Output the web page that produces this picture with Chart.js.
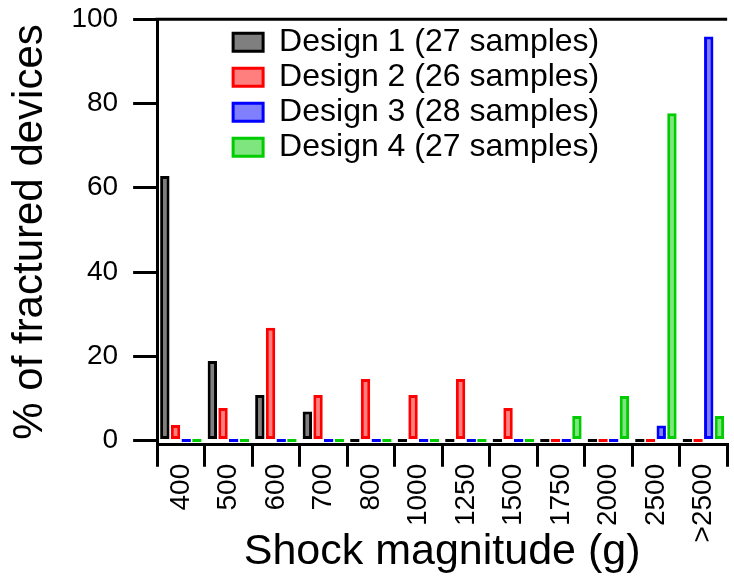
<!DOCTYPE html>
<html>
<head>
<meta charset="utf-8">
<script src="https://cdn.jsdelivr.net/npm/chart.js@4"></script>
<style>
    html, body { margin: 0; padding: 0; background: #fff; }
    #wrap { width: 734px; height: 577px; }
</style>
</head>
<body>
<div id="wrap"><canvas id="grafico"></canvas></div>
<script>
const categorias = ["400", "500", "600", "700", "800", "1000", "1250", "1500", "1750", "2000", "2500", ">2500"];
const design1 = [62.8, 18.9, 10.8, 6.9, 0, 0, 0, 0, 0, 0, 0, 0];
const design2 = [3.7, 7.7, 26.8, 10.8, 14.6, 10.8, 14.6, 7.7, 0, 0, 0, 0];
const design3 = [0, 0, 0, 0, 0, 0, 0, 0, 0, 0, 3.6, 95.9];
const design4 = [0, 0, 0, 0, 0, 0, 0, 0, 5.8, 10.6, 77.7, 5.8];
const nomes = ["Design 1 (27 samples)", "Design 2 (26 samples)", "Design 3 (28 samples)", "Design 4 (27 samples)"];
const yTicks = [0, 20, 40, 60, 80, 100];

const fonte = "'Liberation Sans', Arial, sans-serif";

function serie(label, data, borda, fundo) {
    return {
        label: label,
        data: data,
        borderColor: borda,
        backgroundColor: fundo,
        borderWidth: 3,
        borderSkipped: false,
        minBarLength: 3,
        barPercentage: 0.88,
        categoryPercentage: 0.9
    };
}

// top frame line + put the legend inside the plot, a bit to the right
const molduraPlugin = {
    id: "moldura",
    afterLayout(chart) {
        chart.legend.left = chart.chartArea.left + 73;
        chart.legend.top = chart.chartArea.top + 4;
    },
    afterDraw(chart) {
        const a = chart.chartArea;
        const ctx = chart.ctx;
        ctx.save();
        ctx.strokeStyle = "#000";
        ctx.lineWidth = 3;
        ctx.beginPath();
        ctx.moveTo(a.left - 1.5, a.top);
        ctx.lineTo(a.right, a.top);
        ctx.stroke();
        ctx.restore();
    }
};

new Chart(document.getElementById("grafico"), {
    type: "bar",
    data: {
        labels: categorias,
        datasets: [
            serie(nomes[0], design1, "#000000", "rgba(0,0,0,0.5)"),
            serie(nomes[1], design2, "#ff0000", "rgba(255,0,0,0.5)"),
            serie(nomes[2], design3, "#0000ff", "rgba(0,0,255,0.5)"),
            serie(nomes[3], design4, "#00cc00", "rgba(0,204,0,0.5)")
        ]
    },
    options: {
        responsive: true,
        maintainAspectRatio: false,
        animation: false,
        layout: { padding: { top: 19, left: 0, right: 0, bottom: 0 } },
        plugins: {
            tooltip: { enabled: false },
            legend: {
                position: "chartArea",
                align: "start",
                labels: {
                    color: "#000",
                    boxWidth: 30,
                    boxHeight: 18,
                    padding: 3,
                    font: { family: fonte, size: 32 }
                }
            }
        },
        scales: {
            x: {
                grid: {
                    offset: true,
                    drawOnChartArea: false,
                    color: "#000",
                    lineWidth: 3,
                    tickLength: 22,
                    tickWidth: 3,
                    tickColor: "#000"
                },
                border: { color: "#000", width: 3 },
                ticks: {
                    color: "#000",
                    minRotation: 90,
                    maxRotation: 90,
                    padding: -3,
                    font: { family: fonte, size: 28 }
                },
                title: {
                    display: true,
                    text: "Shock magnitude (g)",
                    color: "#000",
                    padding: { top: -13, bottom: -1 },
                    font: { family: fonte, size: 43 }
                }
            },
            y: {
                min: -1,
                max: 100,
                afterBuildTicks: eixo => { eixo.ticks = yTicks.map(v => ({ value: v })); },
                grid: {
                    drawOnChartArea: false,
                    color: "#000",
                    lineWidth: 3,
                    tickLength: 24,
                    tickWidth: 3,
                    tickColor: "#000"
                },
                border: { color: "#000", width: 3 },
                ticks: {
                    color: "#000",
                    padding: 15,
                    font: { family: fonte, size: 28, lineHeight: 0.3 }
                },
                title: {
                    display: true,
                    text: "% of fractured devices",
                    color: "#000",
                    padding: { top: 5, bottom: 1 },
                    font: { family: fonte, size: 42 }
                }
            }
        }
    },
    plugins: [molduraPlugin]
});
</script>
</body>
</html>
